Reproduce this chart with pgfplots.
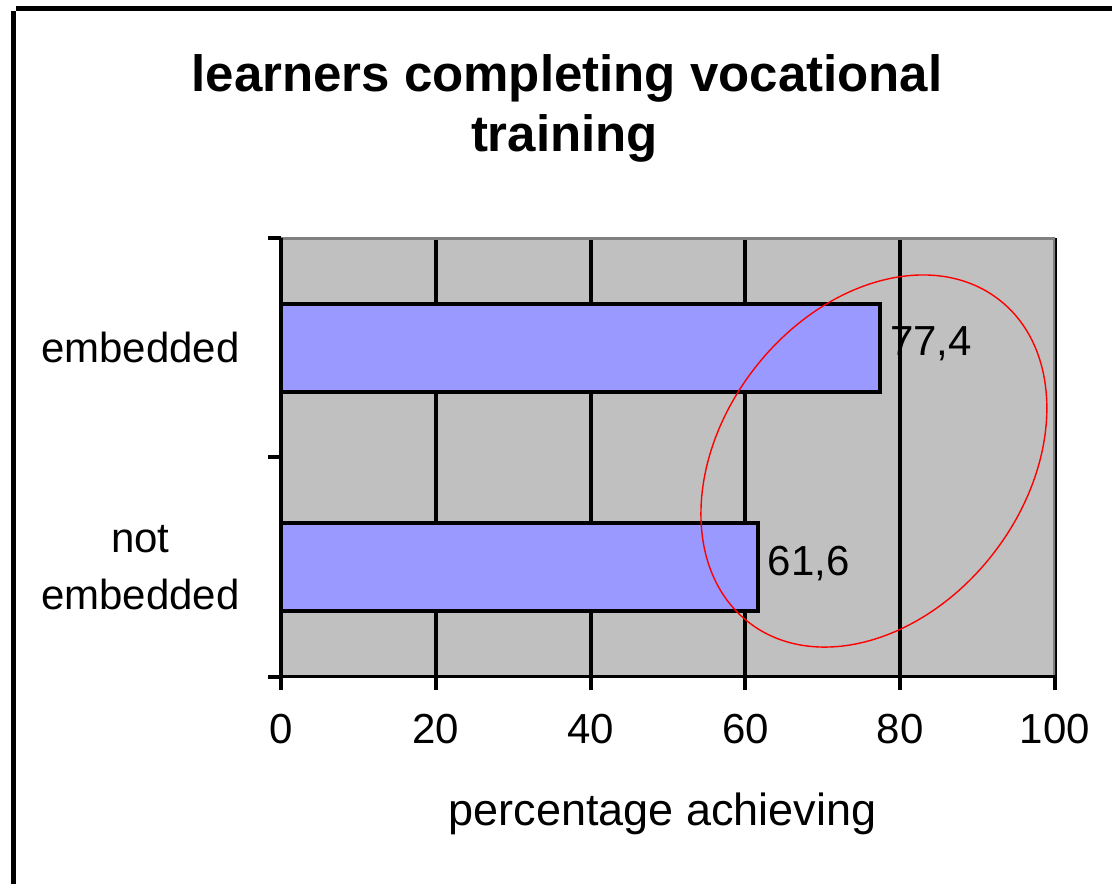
\documentclass[border=0pt]{standalone}
\usepackage{fontspec}
\setmainfont{Liberation Sans}
\usepackage{pgfplots}
\pgfplotsset{compat=1.18}
\definecolor{barblue}{RGB}{153,153,255}
\definecolor{bggray}{RGB}{192,192,192}
\definecolor{bordergray}{RGB}{128,128,128}
\begin{document}
\begin{tikzpicture}
\useasboundingbox (0,0) rectangle (556pt,441.5pt);
\draw[line width=2.5pt] (6.75pt,-2pt) -- (6.75pt,436pt);
\draw[line width=2.5pt] (8pt,437.25pt) -- (560pt,437.25pt);
\begin{axis}[
 at={(140.5pt,103pt)}, anchor=south west,
 scale only axis, width=387pt, height=219.5pt,
 xbar, bar width=44pt,
 xmin=0, xmax=100, ymin=-0.5, ymax=1.5,
 xtick={0,20,40,60,80,100},
 ytick={-0.5,0.5,1.5},
 yticklabels={,,},
 extra y ticks={0,1},
 extra y tick labels={not\\embedded,embedded},
 extra y tick style={major tick length=0pt},
 xtick pos=bottom, ytick pos=left,
 xmajorgrids,
 major x grid style={black, line width=2pt},
 tick align=outside,
 major tick length=6.5pt,
 tick style={black, line width=2pt},
 axis line style={draw=none},
 axis background/.style={fill=bggray},
 tick label style={font=\fontsize{21}{28.5}\selectfont},
 /pgf/number format/assume math mode=true,
 xticklabel style={anchor=base, yshift=-26.5pt, inner sep=0pt},
 yticklabel style={anchor=east, xshift=-20.5pt, inner sep=0pt, align=center},
 point meta=x,
 nodes near coords={\pgfmathprintnumber[use comma,fixed,fixed zerofill,precision=1,assume math mode=true]{\pgfplotspointmeta}},
 every node near coord/.append style={font=\fontsize{21}{25}\selectfont, anchor=west, inner sep=0pt, xshift=4pt, yshift=2pt, black},
]
\addplot[fill=barblue, draw=black, line width=2pt] coordinates {(61.6,0) (77.4,1)};
\draw[bordergray, line width=2.5pt] (rel axis cs:0,1) -- (rel axis cs:1,1) -- (rel axis cs:1,0);
\draw[black, line width=2pt] (rel axis cs:0,1) -- (rel axis cs:0,0) -- (rel axis cs:1,0);
\coordinate (ec) at (axis cs:76.6,0.484);
\end{axis}
\draw[red, line width=0.7pt, rotate around={52.2:(ec)}] (ec) ellipse [x radius=102.1pt, y radius=75.55pt];
\node[anchor=base, font=\bfseries\fontsize{25.5}{30}\selectfont, inner sep=0pt] at (283.5pt,395.5pt) {learners completing vocational};
\node[anchor=base, font=\bfseries\fontsize{25.5}{30}\selectfont, inner sep=0pt] at (282.25pt,365.5pt) {training};
\node[anchor=base, font=\fontsize{22.5}{27}\selectfont, inner sep=0pt] at (331.25pt,29pt) {percentage achieving};
\end{tikzpicture}
\end{document}
